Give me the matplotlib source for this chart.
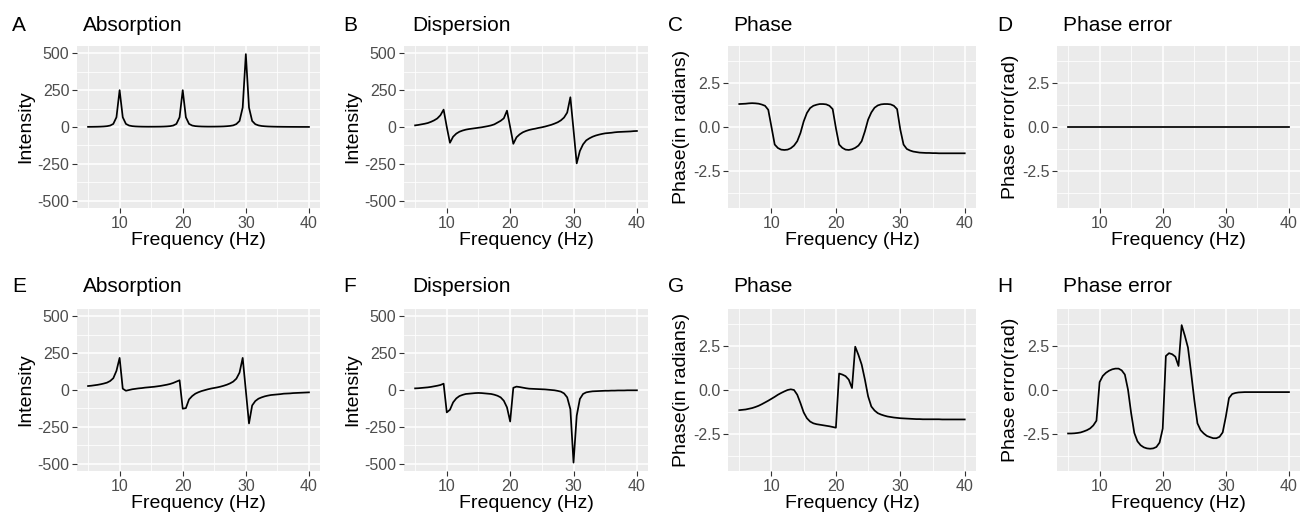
import matplotlib
matplotlib.use("Agg")
import matplotlib.pyplot as plt

plt.rcParams['font.family'] = ['Liberation Sans', 'DejaVu Sans']
plt.rcParams['axes.unicode_minus'] = False

# frequency grid (Hz)
freq = [5.0, 5.5, 6.0, 6.5, 7.0, 7.5, 8.0, 8.5, 9.0, 9.5,
        10.0, 10.5, 11.0, 11.5, 12.0, 12.5, 13.0, 13.5, 14.0, 14.5,
        15.0, 15.5, 16.0, 16.5, 17.0, 17.5, 18.0, 18.5, 19.0, 19.5,
        20.0, 20.5, 21.0, 21.5, 22.0, 22.5, 23.0, 23.5, 24.0, 24.5,
        25.0, 25.5, 26.0, 26.5, 27.0, 27.5, 28.0, 28.5, 29.0, 29.5,
        30.0, 30.5, 31.0, 31.5, 32.0, 32.5, 33.0, 33.5, 34.0, 34.5,
        35.0, 35.5, 36.0, 36.5, 37.0, 37.5, 38.0, 38.5, 39.0, 39.5,
        40.0]

# top row: correctly phased spectrum
absorption_top = [1.1, 1.2, 1.5, 1.9, 2.6, 3.7, 5.7, 9.8, 21, 66,
                  250, 66, 21, 10, 5.9, 4, 3, 2.4, 2.1, 1.9,
                  2, 2, 2.2, 2.5, 3.1, 4.2, 6, 10, 21, 66,
                  250, 66, 21, 10, 6, 4.4, 3.4, 2.9, 2.6, 2.6,
                  2.7, 3, 3.4, 4.1, 5.5, 7.5, 11, 20, 41, 132,
                  495, 132, 41, 19, 11, 7, 5, 3.6, 2.8, 2.2,
                  1.8, 1.5, 1.25, 1.05, 0.9, 0.8, 0.7, 0.6, 0.55, 0.5,
                  0.45]
dispersion_top = [11, 14, 18, 22, 27, 35, 45, 58, 80, 118,
                  0, -107, -66, -45, -32, -24, -18, -14, -11, -8,
                  -5, -2, 2, 6, 11, 18, 30, 42, 59, 111,
                  0, -114, -70, -50, -36, -27, -20, -15, -11, -6,
                  -2, 3, 9, 15, 23, 32, 45, 64, 98, 202,
                  -20, -247, -163, -118, -91, -77, -66, -58, -52, -47,
                  -43, -41, -39, -36, -34, -33, -32, -31, -30, -28,
                  -27]
phase_top = [1.31, 1.32, 1.33, 1.35, 1.36, 1.35, 1.33, 1.28, 1.21, 0.98,
             0.0, -1.0, -1.2, -1.29, -1.31, -1.29, -1.21, -1.06, -0.81, -0.34,
             0.32, 0.8, 1.08, 1.21, 1.27, 1.31, 1.31, 1.29, 1.21, 1.02,
             -0.06, -1.0, -1.19, -1.29, -1.31, -1.27, -1.19, -1.06, -0.81, -0.25,
             0.42, 0.83, 1.1, 1.23, 1.29, 1.31, 1.31, 1.29, 1.21, 1.02,
             -0.15, -1.0, -1.25, -1.34, -1.4, -1.43, -1.46, -1.47, -1.48, -1.48,
             -1.49, -1.49, -1.5, -1.5, -1.5, -1.5, -1.5, -1.5, -1.5, -1.5,
             -1.5]
freq_err_top = [5.0, 40.0]
phase_err_top = [0.0, 0.0]

# bottom row: mis-phased spectrum
absorption_bot = [27, 29, 32, 35, 39, 44, 50, 61, 80, 130,
                  218, 9, -5, 0, 5, 8, 11, 13, 16, 18,
                  20, 22, 25, 28, 32, 36, 41, 48, 57, 66,
                  -127, -123, -64, -41, -25, -15, -7, -1, 5, 10,
                  14, 18, 23, 29, 36, 45, 57, 77, 118, 218,
                  -5, -227, -105, -75, -59, -50, -43, -38, -34, -32,
                  -30, -28, -25, -24, -23, -21, -20, -19, -18, -17,
                  -16]
dispersion_bot = [11, 12, 14, 16, 18, 21, 25, 29, 34, 43,
                  -152, -134, -84, -57, -41, -33, -27, -25, -23, -21,
                  -20, -21, -23, -25, -27, -32, -39, -50, -73, -118,
                  -214, 15, 23, 20, 16, 12, 9, 8, 7, 6,
                  5, 4, 2, 0, -2, -6, -11, -23, -50, -130,
                  -493, -175, -61, -27, -16, -12, -9, -8, -7, -6,
                  -5, -5, -4, -4, -3, -3, -3, -2, -2, -2,
                  -2]
phase_bot = [-1.15, -1.13, -1.11, -1.07, -1.03, -0.97, -0.9, -0.81, -0.71, -0.61,
             -0.5, -0.39, -0.27, -0.17, -0.08, 0.0, 0.04, 0.0, -0.27, -0.75,
             -1.28, -1.61, -1.8, -1.9, -1.95, -1.98, -2.01, -2.04, -2.07, -2.11,
             -2.15, 0.94, 0.88, 0.79, 0.59, 0.11, 2.47, 2.0, 1.45, 0.6,
             -0.36, -0.94, -1.17, -1.32, -1.4, -1.46, -1.51, -1.54, -1.57, -1.59,
             -1.61, -1.62, -1.63, -1.64, -1.65, -1.66, -1.66, -1.67, -1.67, -1.67,
             -1.67, -1.67, -1.67, -1.68, -1.68, -1.68, -1.68, -1.68, -1.68, -1.68,
             -1.68]
phase_err_bot = [-2.48, -2.48, -2.47, -2.45, -2.42, -2.36, -2.29, -2.19, -2.02, -1.75,
                 0.45, 0.8, 0.98, 1.1, 1.18, 1.22, 1.22, 1.12, 0.88, 0.02,
                 -1.33, -2.45, -2.93, -3.15, -3.27, -3.33, -3.35, -3.33, -3.25, -3.0,
                 -2.2, 1.94, 2.1, 2.04, 1.9, 1.37, 3.7, 3.1, 2.42, 0.98,
                 -0.56, -1.9, -2.29, -2.48, -2.62, -2.69, -2.75, -2.75, -2.67, -2.42,
                 -1.52, -0.46, -0.23, -0.17, -0.14, -0.13, -0.12, -0.12, -0.12, -0.12,
                 -0.12, -0.12, -0.12, -0.12, -0.12, -0.12, -0.12, -0.12, -0.12, -0.12,
                 -0.12]

W, H = 1302, 518
fig = plt.figure(figsize=(W / 100, H / 100), dpi=100)

cols = [(77, 320), (404, 648), (728, 976), (1057, 1300)]
rows = [(46, 208), (309, 471)]
letter_x = [12, 343, 668, 997]
title_x = [83, 412, 733, 1063]
baselines = [31, 292]

panels = [
    ('A', 'Absorption', 'Intensity', freq, absorption_top, 'int'),
    ('B', 'Dispersion', 'Intensity', freq, dispersion_top, 'int'),
    ('C', 'Phase', 'Phase(in radians)', freq, phase_top, 'phase'),
    ('D', 'Phase error', 'Phase error(rad)', freq_err_top, phase_err_top, 'phase'),
    ('E', 'Absorption', 'Intensity', freq, absorption_bot, 'int'),
    ('F', 'Dispersion', 'Intensity', freq, dispersion_bot, 'int'),
    ('G', 'Phase', 'Phase(in radians)', freq, phase_bot, 'phase'),
    ('H', 'Phase error', 'Phase error(rad)', freq, phase_err_bot, 'phase'),
]

for i, (tag, title, ylab, x, y, kind) in enumerate(panels):
    r, c = divmod(i, 4)
    l, rr = cols[c]
    t, b = rows[r]
    ax = fig.add_axes([l / W, 1 - b / H, (rr - l) / W, (b - t) / H])
    ax.set_facecolor('#EBEBEB')
    for s in ax.spines.values():
        s.set_visible(False)
    ax.plot(x, y, color='black', lw=1.25)
    ax.set_xlim(3.25, 41.75)
    ax.set_xticks([10, 20, 30, 40])
    ax.set_xticks([5, 15, 25, 35], minor=True)
    if kind == 'int':
        ax.set_ylim(-550, 550)
        ax.set_yticks([-500, -250, 0, 250, 500])
        ax.set_yticks([-375, -125, 125, 375], minor=True)
    else:
        ax.set_ylim(-4.62, 4.62)
        ax.set_yticks([-2.5, 0, 2.5])
        ax.set_yticklabels(['-2.5', '0.0', '2.5'])
        ax.set_yticks([-3.75, -1.25, 1.25, 3.75], minor=True)
    ax.grid(which='major', color='white', lw=1.1)
    ax.grid(which='minor', color='white', lw=0.55)
    ax.set_axisbelow(True)
    ax.tick_params(which='major', length=3.5, width=0.8, color='#333333',
                   labelsize=11.5, labelcolor='#4D4D4D', pad=2)
    ax.tick_params(which='minor', length=0)
    ax.set_xlabel('Frequency (Hz)', fontsize=14, labelpad=1)
    ax.set_ylabel(ylab, fontsize=14, labelpad=2)
    fig.text(letter_x[c] / W, 1 - baselines[r] / H, tag, fontsize=15,
             va='baseline', ha='left')
    fig.text(title_x[c] / W, 1 - baselines[r] / H, title, fontsize=15,
             va='baseline', ha='left')

fig.savefig('out.png', dpi=100)
